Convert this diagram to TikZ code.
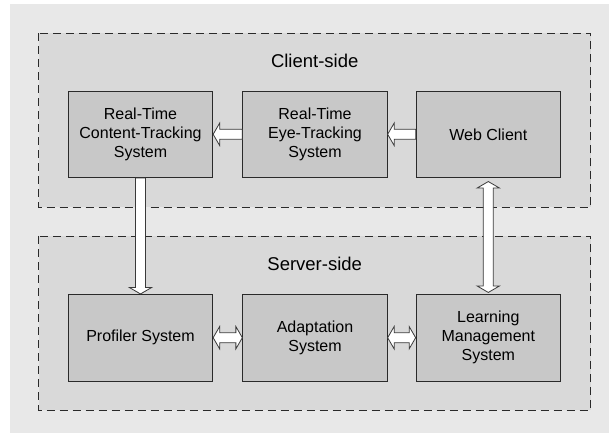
\documentclass[tikz,border=0pt]{standalone}
\usepackage{fontspec}
\setmainfont{Liberation Sans}
\usetikzlibrary{calc}
\definecolor{bgc}{HTML}{E8E8E8}
\definecolor{regc}{HTML}{D9D9D9}
\definecolor{boxc}{HTML}{C8C8C8}
\definecolor{linec}{HTML}{2A2A2A}
\definecolor{arrc}{HTML}{3A3A3A}
\tikzset{
  region/.style={draw=linec, fill=regc, line width=0.9pt, dash pattern=on 8pt off 5pt},
  sysbox/.style={draw=linec, fill=boxc, line width=0.9pt, minimum width=144.4pt, minimum height=86.6pt, align=center, inner sep=0pt, font=\fontsize{16}{19}\selectfont},
  regionlabel/.style={anchor=base, font=\fontsize{18.5}{22}\selectfont, inner sep=0pt},
  fatarr/.style={draw=arrc, fill=white, line width=0.8pt, line join=miter}
}
% single-headed fat arrow from #1 to #2
\newcommand{\fatone}[2]{%
  \draw[fatarr] let \p1=(#1), \p2=(#2), \n1={atan2(\y2-\y1,\x2-\x1)}, \n2={veclen(\x2-\x1,\y2-\y1)} in
    [shift={(\p1)}, rotate=\n1]
    (0,5) -- ({\n2-6.5},5) -- ({\n2-6.5},11.2) -- (\n2,0) -- ({\n2-6.5},-11.2) -- ({\n2-6.5},-5) -- (0,-5) -- cycle;}
% double-headed fat arrow between #1 and #2
\newcommand{\fattwo}[2]{%
  \draw[fatarr] let \p1=(#1), \p2=(#2), \n1={atan2(\y2-\y1,\x2-\x1)}, \n2={veclen(\x2-\x1,\y2-\y1)} in
    [shift={(\p1)}, rotate=\n1]
    (0,0) -- (6.5,11.2) -- (6.5,5) -- ({\n2-6.5},5) -- ({\n2-6.5},11.2) -- (\n2,0) -- ({\n2-6.5},-11.2) -- ({\n2-6.5},-5) -- (6.5,-5) -- (6.5,-11.2) -- cycle;}
\begin{document}
\begin{tikzpicture}[x=1pt, y=-1pt]
\useasboundingbox (0,0) rectangle (609,435);
\fill[bgc] (10,4) rectangle (609,433);
% regions
\draw[region] (38.7,33.3) rectangle (590.7,207.3);
\draw[region] (38.7,236) rectangle (590.7,410);
\node[regionlabel] (clientlbl) at (314.7,67.3) {Client-side};
\node[regionlabel] (serverlbl) at (314.7,270.7) {Server-side};
% client boxes
\node[sysbox] (rtct) at (140.5,134.3) {Real-Time\\Content-Tracking\\System};
\node[sysbox] (rtet) at (315,134.3) {Real-Time\\Eye-Tracking\\System};
\node[sysbox] (web) at (488.3,134.3) {Web Client};
% server boxes
\node[sysbox] (prof) at (140.5,337.7) {Profiler System};
\node[sysbox] (adapt) at (315,337.7) {Adaptation\\System};
\node[sysbox] (lms) at (488.3,337.7) {Learning\\Management\\System};
% connectors
\fatone{web.west}{rtet.east}
\fatone{rtet.west}{rtct.east}
\fatone{rtct.south}{prof.north}
\coordinate (wtop) at ($(web.south)+(0,3.5)$);
\coordinate (wbot) at ($(lms.north)+(0,-1.5)$);
\fattwo{wtop}{wbot}
\fattwo{prof.east}{adapt.west}
\fattwo{adapt.east}{lms.west}
\end{tikzpicture}
\end{document}
